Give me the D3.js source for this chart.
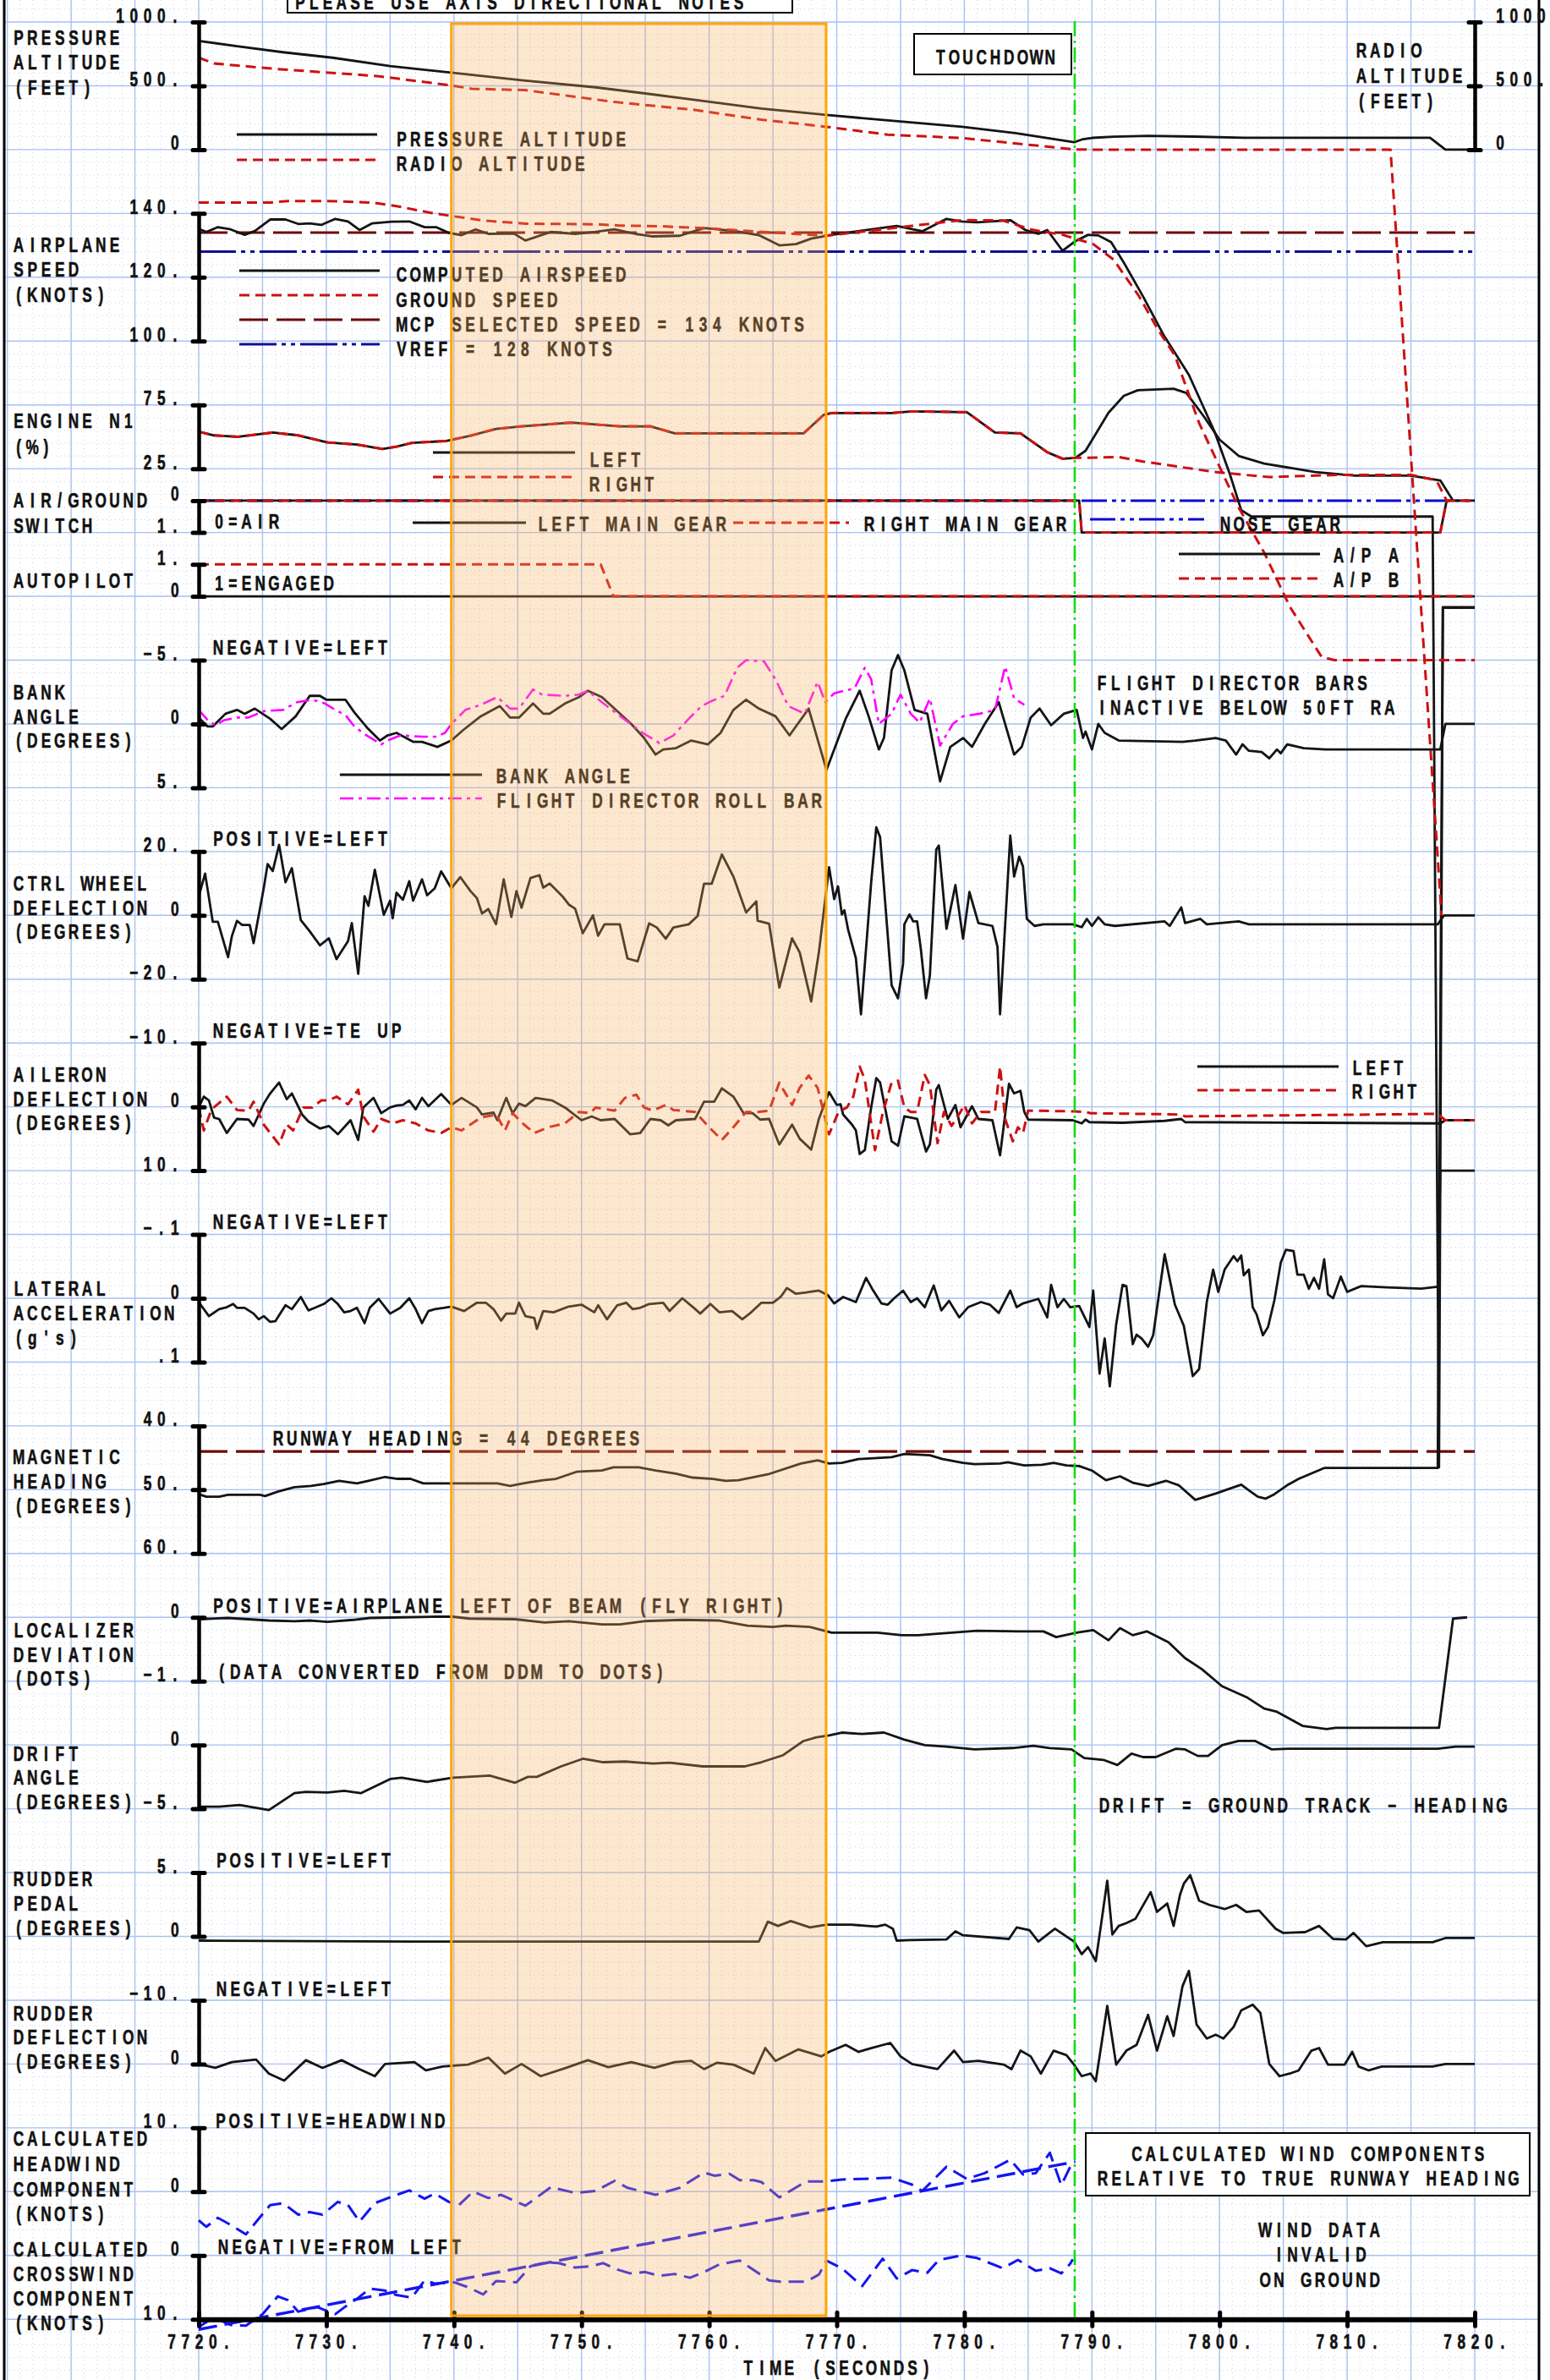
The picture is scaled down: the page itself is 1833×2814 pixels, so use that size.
<!DOCTYPE html>
<html>
<head>
<meta charset="utf-8">
<title>FDR approach and landing</title>
<script src="https://cdn.jsdelivr.net/npm/d3@7"></script>
<style>
  html, body { margin: 0; padding: 0; background: #fff; }
  svg { display: block; }
  text { font-family: "Liberation Sans", Arial, sans-serif; font-weight: bold; font-size: 24px; fill: #111; stroke: #111; stroke-width: 0.6px; white-space: pre; }
</style>
</head>
<body>
<svg id="chart" width="1833" height="2814"></svg>
<script>
// ---------- data (time in seconds, values in panel units) ----------
const pressureAlt = [[7720,852],[7723,810],[7726.6,763],[7730.5,720],[7735,654],[7739.8,603],[7745.3,543],[7751.1,488],[7755,440],[7758.9,389],[7764.1,322],[7769.2,272],[7775,220],[7779.8,179],[7784,130],[7788.6,58],[7789.3,82],[7790,92],[7791.7,101],[7794.4,108],[7798,102],[7801.9,93],[7816.5,93],[7817.7,0],[7820,0]];
const radioAlt = [[7720,720],[7721.2,675],[7726.2,631],[7734,576],[7739.8,503],[7741.4,477],[7745.6,466],[7752.6,373],[7758.9,311],[7764.1,234],[7769.2,179],[7774,117],[7779.8,91],[7788.6,2],[7790,0],[7813.4,0],[7817.4,-6000]];

const computedAirspeed = [[7720,135.2],[7720.6,134.2],[7721.5,135.7],[7722.5,135],[7723.6,133.3],[7724.4,134.5],[7725.6,138.1],[7726.8,138.1],[7727.8,136.7],[7728.7,136.9],[7729.6,136.4],[7730.7,138.3],[7731.7,137.5],[7732.6,134.8],[7733.6,136.9],[7735.1,137.4],[7736.5,137.5],[7737.7,135.7],[7738.6,135.7],[7739.6,133.9],[7740.6,133.2],[7741.7,135],[7742.7,133.6],[7744.7,133.7],[7745.6,131.5],[7747.6,134.2],[7749.5,133.6],[7751.1,134.2],[7752.6,135],[7754.2,133.6],[7755.6,132.8],[7757.7,133],[7759.6,135.4],[7762,134.5],[7763.9,133.2],[7765.5,130],[7766.8,130.4],[7768,132.1],[7769.6,133.3],[7774.7,136.1],[7776.7,134.4],[7778.6,138.3],[7779.8,137.5],[7781,137.2],[7783.6,137.9],[7784.8,134.8],[7785.8,133.6],[7786.5,134.8],[7787.7,128.3],[7788.7,131.3],[7789.7,133.3],[7790.5,133.1],[7791.5,131],[7792.5,124.6],[7794,114],[7795.6,102],[7797.6,89.4],[7799.6,71.7],[7800.8,58.4],[7801.7,47],[7802.5,45],[7816.7,45],[7817.2,-253],[7817.5,16.6],[7820,16.6]];
const groundSpeed = [[7720,143.4],[7725.6,143.4],[7727,143.9],[7730.1,143.9],[7733.6,143.4],[7735.5,142.3],[7738.3,140.1],[7739.8,139.2],[7742.5,137.7],[7745.6,136.8],[7751.1,136.6],[7753,136.2],[7756.1,136],[7759.6,135.4],[7765.4,133.9],[7769.2,133],[7775.9,136.1],[7779.8,137.9],[7783,137.8],[7785.3,134.9],[7787.7,133.3],[7790.1,130.4],[7791.7,125.5],[7793.7,114],[7795.2,103.4],[7796.5,95.5],[7798.4,74.3],[7801.5,47.8],[7803.5,33.7],[7805.5,16.8],[7808,1],[7809,0],[7820,0]];
const mcpSpeed = [[7720,134],[7820,134]];
const vref = [[7720,128],[7820,128]];

const n1Approach = [[7720,54],[7721.2,51.1],[7723.1,50],[7725.8,53.3],[7727.8,51.1],[7730.1,45.6],[7732.4,43.9],[7734.4,40.5],[7735.5,42.3],[7736.7,45.2],[7739.4,46.7],[7741.4,51.1],[7743.3,56.2],[7745.3,58.2],[7749.2,61.1],[7753,58.2],[7755.4,58.2],[7757.3,52.7],[7767.4,52.7],[7769,67.3],[7769.6,68.6],[7774.3,68.6],[7775.9,69.9],[7780.2,69.3],[7782.4,53.3],[7784.4,52.7],[7786.5,37.9],[7787.7,32.8],[7788.7,33.5]];
const n1Left = [...n1Approach, [7789.5,39],[7791.3,68.8],[7792.5,82.1],[7793.6,86.5],[7796.4,87.6],[7797.4,84.3],[7798.8,65.5],[7800,47.8],[7801.5,35],[7803.5,29],[7807.5,22.4],[7810.6,19.5],[7815,19.5],[7817.3,15.8],[7818.3,0]];
const n1Right = [...n1Approach, [7789.3,33.5],[7792.1,34.1],[7794,30.6],[7799.6,22.4],[7803.9,18.4],[7809.4,20.2],[7815,20.2],[7817,15.8],[7817.8,0]];

const leftMainGear = [[7720,0],[7789,0],[7789.2,1],[7817.3,1],[7817.8,0],[7820,0]];
const rightMainGear = [[7720,0],[7789,0],[7789.2,1],[7817.3,1],[7817.8,0],[7820,0]];
const noseGear = [[7720,0],[7820,0]];
const autopilotA = [[7720,0],[7820,0]];
const autopilotB = [[7720,1],[7751.5,1],[7752.5,0],[7820,0]];

const bankAngle = [[7720,-0.5],[7720.7,0.2],[7721.1,0.2],[7722.1,-0.8],[7723,-1.1],[7723.6,-0.8],[7724.4,-1.2],[7725.6,-0.4],[7726.5,0.4],[7727.6,-0.6],[7728.7,-2.2],[7729.5,-2.2],[7730,-1.9],[7731.5,-1.9],[7732.2,-0.9],[7733.2,0.3],[7734.2,1.3],[7734.8,0.9],[7735.5,0.7],[7736.8,1.4],[7737.5,1.4],[7738.7,1.8],[7739.8,1.3],[7740.7,0.5],[7742.1,-0.6],[7743.6,-1.4],[7744.4,-0.5],[7745.1,-0.5],[7746.2,-1.6],[7747,-0.8],[7747.5,-0.8],[7748.7,-1.6],[7749.8,-2.1],[7750.5,-2.6],[7751.6,-2.1],[7753.9,0],[7754.9,1.1],[7755.8,2.4],[7756.4,2],[7757.4,1.9],[7758.6,1.3],[7759.9,1.6],[7760.9,0.7],[7761.9,-1.1],[7762.9,-1.9],[7763.9,-1.2],[7765.2,-0.6],[7766.3,0.9],[7767.8,-1.2],[7769.2,3.6],[7770.7,-0.4],[7771.8,-2.6],[7772.5,-0.6],[7773.3,2],[7773.7,1.1],[7774.3,-4.2],[7774.8,-5.4],[7775.3,-4.2],[7776.1,-1.1],[7777.1,-0.8],[7778.1,4.5],[7778.9,1.8],[7779.9,1.1],[7780.6,1.8],[7781.6,0],[7782.7,-1.7],[7783.9,2.4],[7784.5,1.8],[7785.2,-0.5],[7785.9,-1.2],[7786.8,0.1],[7787.8,-0.8],[7788.8,-1.1],[7789.3,1.1],[7789.5,0.6],[7790,2],[7790.5,0],[7791,0.7],[7792.1,1.3],[7797.1,1.4],[7798.1,1.3],[7799.7,1.1],[7800.5,1.3],[7801.3,2.4],[7801.8,1.6],[7802.3,2.1],[7803.3,2.2],[7803.9,2.7],[7804.5,2],[7804.8,2.3],[7805.3,1.6],[7806.6,1.9],[7808.3,2],[7817.3,2],[7817.7,0],[7820,0]];
const fdRollBar = [[7720,-1.1],[7720.7,-0.3],[7721.3,0.1],[7722,-0.3],[7723,-0.5],[7723.9,-0.5],[7725.1,-1],[7726.6,-1.1],[7727.7,-1.7],[7728.9,-1.9],[7729.9,-1.6],[7730.7,-1.1],[7731.5,-0.7],[7732.2,0.2],[7733,0.8],[7734.3,1.6],[7734.8,1.3],[7735.8,0.9],[7737.5,1],[7738.6,1],[7739.3,0.7],[7739.8,0],[7740.9,-1.1],[7742.1,-1.5],[7743.4,-2.1],[7744.4,-1.2],[7745.1,-1.2],[7746.2,-2.7],[7746.9,-2.3],[7748.7,-2.2],[7749.8,-2.3],[7750.5,-2.6],[7751.6,-1.7],[7753.3,-0.4],[7754.8,0.7],[7756.1,1.5],[7757.2,0.9],[7758.4,-0.4],[7759.4,-1.4],[7760.2,-1.8],[7761.2,-2.2],[7762.2,-4.4],[7762.9,-5],[7764.3,-4.9],[7765.2,-3.5],[7766.2,-1.4],[7767.5,-0.8],[7768.5,-3.3],[7769.1,-1.7],[7769.8,-2.4],[7771.4,-2.8],[7772.2,-4.4],[7772.7,-3.5],[7773.3,0],[7774.3,-0.8],[7775,-2.3],[7775.8,-0.8],[7776.5,-0.1],[7777.3,-2],[7778.1,1.7],[7779.1,0],[7779.9,-0.6],[7781.2,-0.8],[7782.4,-1.1],[7783.2,-4.5],[7783.9,-2],[7784.7,-1.5]];

const ctrlWheel = [[7720,5.9],[7720.5,13.1],[7721.1,-2],[7721.5,-2],[7722.3,-13.1],[7722.6,-6.5],[7723,-1.7],[7723.4,-3],[7724,-3],[7724.3,-8.7],[7725.1,8.6],[7725.4,16.1],[7725.8,13.9],[7726.3,22.1],[7726.8,10.4],[7727.3,14.8],[7728,-1.5],[7728.7,-5],[7729.5,-9.4],[7730.2,-7.2],[7730.8,-13.7],[7731.7,-8.1],[7732,-2.4],[7732.5,-18.3],[7733,6],[7733.3,3],[7733.8,14.3],[7734.5,0.2],[7735,4.6],[7735.2,-0.9],[7735.5,7.1],[7736,4.9],[7736.5,10.7],[7736.8,4.6],[7737.5,11.3],[7737.9,6.3],[7738.5,8.5],[7739,13.8],[7739.8,8.5],[7740.5,12],[7741.3,7.6],[7741.8,5.4],[7742.2,0.6],[7742.7,2],[7743.3,-2.8],[7743.9,11.3],[7744.5,-0.5],[7744.9,7.6],[7745.3,2.4],[7746,11.7],[7746.7,12.6],[7747,8.7],[7747.5,10],[7748.5,6],[7749,3.4],[7749.5,2.1],[7750.1,-5.6],[7750.9,0],[7751.3,-6.4],[7751.8,-2.8],[7753,-2.8],[7753.6,-13.5],[7754.4,-14.4],[7755.3,-2.5],[7755.9,-3.8],[7756.6,-7.3],[7757.2,-3.8],[7758.4,-2.8],[7759.1,-0.2],[7759.6,9.9],[7760.2,9.9],[7761,19.1],[7761.9,12.2],[7762.9,0.9],[7763.7,4.4],[7763.8,-1.7],[7764.7,-2.6],[7765.5,-22.6],[7766.5,-7.2],[7767.1,-11.6],[7768,-27],[7768.6,-11.6],[7769.4,15.1],[7769.8,5.1],[7770.1,9.1],[7770.4,0.3],[7770.6,1.6],[7770.9,-4.6],[7771.5,-13.4],[7771.9,-31],[7772.7,10.4],[7773.1,27.6],[7773.4,24.5],[7774.3,-21.9],[7774.8,-26],[7775.2,-15.2],[7775.3,-2.8],[7775.7,0.3],[7776,-1.9],[7776.3,-1.9],[7776.6,-10.8],[7777,-26],[7777.3,-18.8],[7777.8,20.6],[7778,21.9],[7778.6,-4.2],[7779.3,9.5],[7779.9,-7.3],[7780.4,7.3],[7781.1,-2.4],[7782.2,-3.3],[7782.6,-9.9],[7782.8,-31],[7783.6,25],[7783.9,12.2],[7784.3,18.4],[7784.6,15.3],[7784.9,-1.1],[7785.5,-3.3],[7786.2,-2.8],[7788.5,-2.8],[7789.2,-3.7],[7789.6,-1.1],[7790,-3.3],[7790.5,-0.6],[7791,-2.8],[7791.8,-3.3],[7795.7,-1.9],[7796.1,-3.3],[7797,2.5],[7797.3,-2.4],[7798.5,-1.1],[7799,-2.8],[7801.5,-1.9],[7802.3,-2.8],[7817.1,-2.8],[7817.6,0],[7820,0]];

const aileronLeft = [[7720,0.1],[7720.4,-1.6],[7720.8,-1],[7721.2,1.7],[7721.6,1.9],[7722.2,4.1],[7723,1.9],[7723.9,2],[7724.3,3],[7725.1,-0.5],[7725.6,-2.1],[7726.3,-3.8],[7726.9,-1.2],[7727.3,-2.1],[7728.1,1.2],[7728.6,2.3],[7729.5,3.4],[7730.2,3],[7730.9,4.3],[7731.9,2.1],[7732.5,5.2],[7732.9,0.1],[7733.7,-1.4],[7734.3,1],[7735,0.1],[7735.5,-0.2],[7736,-0.3],[7736.5,-1],[7737,0.4],[7737.5,-1.4],[7738,-0.1],[7739,-2],[7739.8,-0.3],[7740.6,-1.4],[7741.8,0.1],[7742.2,1.2],[7743.1,0.9],[7743.4,2.1],[7744.1,-1.4],[7744.6,1],[7745.1,-0.5],[7745.6,-0.1],[7746.4,-1.4],[7747.7,-1],[7748.7,0.1],[7750,2.1],[7750.8,1.5],[7751.5,2.1],[7752.6,1.9],[7753.8,4.3],[7754.6,4.1],[7755.4,1.9],[7756.2,2.1],[7756.8,2.9],[7757.4,2.1],[7758.9,1.9],[7759.6,-0.8],[7760.4,-0.8],[7761,-2.9],[7761.9,-1.6],[7762.7,1],[7763.4,1],[7764,2],[7764.7,1.9],[7765.5,5.9],[7766.5,2.8],[7767.1,5],[7768,6.7],[7768.6,1.9],[7769.4,-2.3],[7770,-0.3],[7770.3,-0.4],[7770.5,1.2],[7771.2,2.8],[7771.5,3.7],[7771.8,7.4],[7772.2,6.8],[7772.7,0.1],[7773.1,-4.5],[7773.4,-3.8],[7774.3,5.4],[7774.8,6.1],[7775.3,1.5],[7775.8,1.7],[7776.3,1.9],[7776.6,4.1],[7777,7],[7777.3,5.9],[7777.8,-2.7],[7778,-3.4],[7778.7,1.9],[7779.3,-0.3],[7779.7,3.2],[7780.6,-0.1],[7781.1,1.9],[7782.2,2.1],[7782.8,7.6],[7783.5,-3.6],[7783.9,-2.1],[7784.4,-2.5],[7784.7,0.8],[7785,2],[7788.5,2.1],[7789.2,2.6],[7789.5,2],[7789.8,2.4],[7792.4,2.5],[7795.7,2.2],[7797,1.9],[7797.3,2.4],[7807.6,2.5],[7817.3,2.6],[7817.7,2.1],[7820,2.1]];
const aileronRight = [[7720,0.1],[7720.4,3.7],[7721,0.4],[7722.2,-1.6],[7723,0.5],[7723.9,0.6],[7724.3,-0.8],[7725.1,2.8],[7726.3,5.9],[7726.9,2.8],[7727.4,3.7],[7728.2,0.1],[7728.9,0.1],[7729.6,-1],[7730.2,-1],[7730.8,-1.6],[7731.7,-0.4],[7732.5,-2.7],[7732.9,1.5],[7733.7,3.9],[7734.3,1.9],[7735.2,2.6],[7736,2.1],[7737,2.6],[7738,3.7],[7739,4.1],[7739.8,3.2],[7740.6,3.7],[7742.1,1.7],[7743.3,1.2],[7744,3.7],[7744.6,1],[7745.5,2.8],[7746.3,4.1],[7747.4,3.2],[7748.7,2.6],[7749.8,0.8],[7750.7,1],[7751.1,0.1],[7752.6,0.6],[7753.4,-1.4],[7754.3,-1.9],[7754.9,0.1],[7755.6,0.6],[7756.6,-0.3],[7757.2,0.5],[7758.9,0.8],[7760,3.2],[7761,5.2],[7761.9,3.2],[7762.9,0.8],[7763.8,0.8],[7764.7,0.6],[7765.5,-3.8],[7766.5,-0.3],[7767.1,-3],[7767.8,-4.9],[7768.5,-3],[7769.4,4.3],[7770.1,1],[7770.3,0.6],[7770.8,0.1],[7771.3,-1.6],[7771.8,-6.3],[7772.2,-4.3],[7773,6.8],[7773.6,1],[7774.3,-3.8],[7774.8,-4.1],[7775.3,0.1],[7775.8,0.8],[7776.3,0.8],[7776.9,-5],[7777.3,-3.4],[7777.9,5.7],[7778.4,0.8],[7779,3],[7779.7,0.8],[7780,-0.3],[7780.6,2.6],[7781.3,0.8],[7782.4,0.8],[7782.8,-6.3],[7783.2,1.9],[7783.8,5.4],[7784.2,3.2],[7784.6,4.1],[7785,0.6],[7788.5,0.7],[7789.5,0.8],[7789.9,1],[7797,1.2],[7797.3,1.5],[7817.1,1.1],[7817.7,2.1],[7820,2.1]];

const lateralAccel = [[7720,0.006],[7720.8,0.028],[7721.6,0.017],[7722.2,0.014],[7722.7,0.009],[7723,0.015],[7723.6,0.015],[7724.3,0.024],[7724.7,0.033],[7725.1,0.028],[7725.6,0.037],[7726,0.036],[7726.8,0.011],[7727.3,0.017],[7728,-0.002],[7728.6,0.019],[7729.1,0.015],[7729.8,0.009],[7730.4,0],[7730.9,0.009],[7731.4,0.022],[7731.9,0.02],[7732.4,0.015],[7733,0.039],[7733.4,0.015],[7734.1,0.001],[7735,0.024],[7735.8,0.015],[7736.5,0],[7737,0.017],[7737.5,0.039],[7738,0.02],[7738.5,0.017],[7739.2,0.015],[7739.8,0.013],[7740.8,0.02],[7741.8,0.007],[7742.5,0.007],[7743.1,0.017],[7743.7,0.035],[7744.1,0.024],[7744.8,0.024],[7745.1,0.007],[7745.6,0.028],[7746.3,0.031],[7746.5,0.048],[7747,0.02],[7747.8,0.022],[7749,0.013],[7750,0.01],[7751,0.022],[7751.3,0.011],[7752,0.033],[7752.8,0.011],[7753.5,0.007],[7754,0.017],[7754.6,0.015],[7755.3,0.009],[7756.4,0.007],[7756.9,0.02],[7757.9,0],[7758.8,0.015],[7759.3,0.024],[7760.1,0.009],[7760.8,0.022],[7761.8,0.02],[7762.6,0.033],[7763.3,0.022],[7764.1,0.007],[7765,0.007],[7765.6,-0.002],[7766.1,-0.016],[7766.8,-0.007],[7767.6,-0.009],[7768.6,-0.012],[7769.3,-0.005],[7769.8,0.008],[7770.5,-0.002],[7771,0.002],[7771.5,0.006],[7772.3,-0.032],[7772.8,-0.014],[7773.5,0.008],[7774,0.01],[7774.5,0],[7775.2,-0.012],[7775.8,0.006],[7776.3,0],[7776.9,0.014],[7777.6,-0.02],[7778.2,0.019],[7778.8,0.004],[7779.6,0.03],[7780.3,0.014],[7781.3,0.006],[7782,0.01],[7782.7,0.023],[7783.6,-0.012],[7784.1,0.014],[7784.6,0.008],[7785.8,0.001],[7786.5,0.03],[7786.8,-0.021],[7787.3,0.014],[7787.8,0.001],[7788.3,0.014],[7789,0.012],[7789.8,0.045],[7790.1,-0.012],[7790.6,0.118],[7791,0.063],[7791.4,0.138],[7791.9,0.041],[7792.4,-0.021],[7792.7,-0.019],[7793.2,0.072],[7793.5,0.057],[7793.9,0.063],[7794.4,0.076],[7794.8,0.058],[7795.7,-0.069],[7796.5,0.01],[7797.2,0.043],[7797.9,0.122],[7798.4,0.111],[7799,0.006],[7799.5,-0.045],[7799.9,-0.01],[7800.4,-0.045],[7801.1,-0.066],[7801.4,-0.058],[7801.7,-0.067],[7801.9,-0.036],[7802.3,-0.045],[7802.6,0.014],[7802.9,0.025],[7803.4,0.058],[7803.8,0.045],[7804.3,0.003],[7804.8,-0.056],[7805.2,-0.076],[7805.8,-0.074],[7806.1,-0.037],[7806.6,-0.037],[7807,-0.015],[7807.4,-0.032],[7807.8,-0.015],[7808.2,-0.061],[7808.5,-0.006],[7808.9,0],[7809.5,-0.034],[7810,-0.01],[7811.1,-0.019],[7813.1,-0.017],[7815.8,-0.015],[7817.1,-0.018],[7817.3,-0.2],[7820,-0.2]];

const magHeading = [[7720,50.7],[7720.6,51.1],[7721.6,51.1],[7722.3,50.8],[7724.8,50.8],[7725.2,51],[7726.2,50.3],[7727.5,49.6],[7728.8,49.4],[7729.8,49.1],[7731,48.6],[7732.4,49],[7733.3,48.6],[7734.6,48],[7735.6,48.3],[7736.6,48.3],[7737.6,49],[7743.4,49],[7744.4,49.4],[7745.7,48.9],[7747,48.5],[7748,48.3],[7749.6,47.2],[7751.6,47],[7752.5,46.5],[7754.5,46.5],[7755.8,47],[7757.4,47.5],[7758.7,48.1],[7760.3,48.3],[7761.3,48.6],[7762.3,48.5],[7764.6,47.6],[7767.2,45.9],[7768.5,45.4],[7769.4,45.9],[7770.4,45.8],[7771.7,45.2],[7774.3,44.9],[7775.3,44.4],[7777.3,44.6],[7778.3,45.2],[7779.9,45.8],[7780.8,46],[7782.8,45.9],[7783.4,45.7],[7784.7,46.2],[7786.1,46.1],[7787,45.8],[7788,46.2],[7789,46.3],[7790,47],[7791.1,48.5],[7792.2,47.9],[7793.2,48.9],[7794.4,49.4],[7795.8,48.6],[7796.8,49.3],[7798.1,51.6],[7799.7,50.6],[7801.7,49.2],[7802.3,50.1],[7803,51.1],[7803.6,51.4],[7804.3,50.7],[7805.3,49.3],[7806.2,48.3],[7808.2,46.6],[7817.1,46.6],[7817.5,-88.2],[7820,-88.2]];
const runwayHeading = [[7720,44],[7820,44]];

const localizer = [[7720,-0.03],[7722.3,-0.01],[7725.5,-0.05],[7727.5,-0.06],[7728.8,-0.05],[7730.1,-0.07],[7732.1,-0.04],[7733.4,-0.01],[7736,0],[7738.6,0.01],[7739.9,0.01],[7741.2,-0.02],[7744.8,-0.03],[7747.1,-0.08],[7749,-0.06],[7751.6,-0.11],[7753,-0.11],[7754.9,-0.06],[7757.9,-0.04],[7760.8,-0.05],[7763,-0.13],[7765,-0.15],[7766,-0.13],[7767.9,-0.15],[7769.6,-0.24],[7773.2,-0.24],[7775.1,-0.28],[7776.4,-0.28],[7777.7,-0.26],[7781,-0.21],[7784.3,-0.22],[7786.2,-0.22],[7787.2,-0.31],[7788.8,-0.24],[7790.1,-0.2],[7791.3,-0.36],[7792.2,-0.17],[7793.2,-0.28],[7794.3,-0.22],[7796,-0.39],[7797.3,-0.64],[7798.6,-0.81],[7800.2,-1.08],[7802.2,-1.26],[7803.5,-1.43],[7804.5,-1.48],[7806.5,-1.7],[7808.4,-1.75],[7809.1,-1.73],[7817.2,-1.73],[7818.3,-0.02],[7819.4,0]];

const driftAngle = [[7720,-4.84],[7721.6,-4.84],[7723.2,-4.71],[7725.5,-5.1],[7727.5,-3.78],[7728.4,-3.67],[7730.1,-3.73],[7731.4,-3.6],[7732.7,-3.78],[7735,-2.67],[7735.9,-2.56],[7737.9,-2.89],[7739.9,-2.56],[7742.8,-2.4],[7744.8,-2.96],[7745.8,-2.5],[7746.5,-2.5],[7748.4,-1.68],[7750.1,-1.08],[7751.7,-1.35],[7753.4,-1.3],[7755.6,-1.46],[7756.9,-1.39],[7759.5,-1.68],[7762.8,-1.68],[7764.1,-1.35],[7765.8,-0.8],[7767.4,0.31],[7768.4,0.6],[7769.4,0.75],[7770.4,0.97],[7772,0.86],[7773.7,0.97],[7775.3,0.42],[7776.9,-0.02],[7778.6,-0.13],[7780.8,-0.35],[7783.8,-0.24],[7785.4,-0.06],[7786.7,-0.24],[7788.4,-0.35],[7789.4,-1.02],[7790.9,-1.17],[7792,-1.57],[7793.1,-0.68],[7794,-0.95],[7795,-0.95],[7796.6,-0.29],[7797.3,-0.35],[7798.3,-0.86],[7799.1,-0.86],[7800.2,-0.02],[7801.5,0.31],[7802.8,0.31],[7804.1,-0.35],[7805.4,-0.29],[7817.1,-0.29],[7818.5,-0.13],[7820,-0.13]];

const rudderPedal = [[7720,-0.33],[7736.6,-0.4],[7763.9,-0.4],[7764.6,1.15],[7765.4,0.82],[7766.4,1.2],[7767.9,0.7],[7769.2,0.92],[7771.1,0.92],[7773.1,0.77],[7773.8,0.92],[7774.4,0.6],[7774.7,-0.33],[7775.7,-0.29],[7778.6,-0.24],[7779.3,0.4],[7779.9,0.09],[7783.5,-0.2],[7784.1,0.7],[7785.1,0.49],[7785.8,-0.4],[7787.1,0.6],[7788.1,-0.07],[7788.6,-0.4],[7789.2,-1.39],[7789.7,-0.84],[7790.3,-1.94],[7790.7,0.82],[7791.2,4.36],[7791.6,0.15],[7792.1,0.82],[7792.7,1.04],[7793.4,1.37],[7794.6,3.47],[7795.1,1.92],[7795.9,2.58],[7796.4,0.82],[7796.9,3.25],[7797.2,4.13],[7797.7,4.8],[7798.4,2.8],[7799.2,2.47],[7800.4,2.14],[7801.3,2.47],[7802.1,1.92],[7803.1,2.03],[7804.4,0.6],[7805,0.27],[7806.7,0.33],[7807.8,0.82],[7808.9,-0.2],[7809.9,-0.24],[7810.5,0.27],[7811.5,-0.77],[7812.8,-0.46],[7816.7,-0.46],[7817.7,-0.13],[7820,-0.13]];
const rudderDefl = [[7720,0],[7721.3,0.6],[7722.6,-0.3],[7724.5,-0.7],[7725.5,1.5],[7726.7,2.6],[7728.4,-0.6],[7729.7,0.6],[7731.2,-0.6],[7732.6,0.8],[7733.8,1.9],[7734.6,0],[7736.9,-0.3],[7737.8,1],[7739.1,0.4],[7741.1,0.1],[7742.7,-1],[7744,1.5],[7745.3,0],[7746.8,1.9],[7748.8,0.6],[7750.5,-0.6],[7752.1,0.5],[7753.9,-0.3],[7755.7,0.6],[7757.3,-0.3],[7758.6,-0.5],[7759.6,0.8],[7760.6,-0.2],[7761.9,0.1],[7763.5,1.5],[7764.4,-2.5],[7765.2,-0.5],[7767,-2.3],[7768.8,-1.2],[7769.4,-1.9],[7770.7,-3],[7771.7,-1.9],[7772.7,-2.5],[7774.2,-3.3],[7775,-1.2],[7775.9,0],[7777.9,0.8],[7779.2,-2.1],[7779.9,-0.3],[7781.1,-0.5],[7783.1,0.1],[7783.7,0.8],[7784.4,-2.1],[7785.2,-1.2],[7786,1.5],[7787,-2.1],[7788,-1.4],[7788.6,0.1],[7789.2,1.9],[7789.9,1.5],[7790.3,2.7],[7790.7,-2.5],[7791.2,-9.1],[7791.9,0.1],[7792.7,-2.1],[7793.5,-3],[7794.4,-7.7],[7795.1,-2.1],[7795.9,-7.5],[7796.4,-4.4],[7797.1,-12.2],[7797.6,-14.6],[7798.2,-6.2],[7799,-4],[7799.7,-4.6],[7800.3,-4],[7801.1,-5.8],[7801.7,-8.4],[7802.6,-9.3],[7803.2,-8],[7803.9,0],[7804.7,1.9],[7805.5,1.5],[7806.2,1],[7807.2,-2.1],[7807.8,-2.5],[7808.5,0.1],[7809.8,0.1],[7810.4,-1.9],[7810.9,0.4],[7811.7,1],[7812.7,0.4],[7816.7,0.4],[7817.7,0],[7820,0]];

const headwind = [[7720,-4.5],[7720.6,-5.5],[7721.5,-4.1],[7722.5,-5.2],[7723.7,-6.7],[7724.6,-4.5],[7725.6,-2.1],[7726.6,-1.8],[7727.8,-3.6],[7728.7,-3.2],[7729.7,-3.6],[7730.9,-1.6],[7731.7,-2.1],[7732.6,-4.7],[7733.8,-1.8],[7735.1,-0.8],[7736.5,0.2],[7737.7,-1.1],[7738.5,-0.3],[7739.6,-1.6],[7740.4,-2.1],[7741.5,0],[7742.7,-1],[7743.7,-0.5],[7745.6,-2.2],[7747.6,0.7],[7749.5,-0.2],[7751.1,0.1],[7752.6,1.7],[7753.6,0.6],[7755.8,-0.5],[7757.7,0.6],[7759.6,3],[7760.4,2.5],[7761.6,2.8],[7762.4,1.8],[7763.5,1.8],[7764.1,1.5],[7765.5,-0.9],[7767.6,1.6],[7769.2,1.6],[7770.4,1.9],[7772,2],[7774.3,2.2],[7775.9,1.1],[7776.7,0.1],[7778.6,3.9],[7780.2,2],[7781.6,2.9],[7783.6,5],[7784.6,2.7],[7785.6,2.9],[7786.7,6.1],[7787.6,1],[7788.3,3.9]];
const crosswind = [[7720,11.2],[7721.2,9.7],[7722.5,10.9],[7723.7,11],[7725,9.2],[7726.2,6.4],[7727,7],[7727.8,8.8],[7729.3,8.1],[7730.7,9.2],[7731.7,7.7],[7732.4,6.8],[7733.4,5.2],[7734.6,5.5],[7735.5,6.2],[7736.7,6.6],[7737.7,3.9],[7738.5,4.4],[7740,4.2],[7741,4.9],[7742.3,6.1],[7743.3,4],[7744.9,4.2],[7746,1.7],[7747.2,1.1],[7748.2,1.2],[7749.5,1.9],[7750.7,1.7],[7751.7,1.2],[7752.8,2.2],[7753.8,2.8],[7755,2.6],[7756.1,3.2],[7757.3,2.9],[7758.5,3.5],[7759.6,2.6],[7760.8,1.4],[7762.4,0.8],[7763.5,2.3],[7764.7,3.9],[7765.6,4.1],[7767.6,4.1],[7768.6,3],[7769.2,0.8],[7770.4,2],[7772,4.8],[7773.6,0.5],[7774.7,3.6],[7775.9,2.3],[7777.1,2.7],[7778,0.7],[7779.8,0],[7781,0.4],[7783,2],[7784.2,0.7],[7785.6,2.4],[7786.7,2],[7787.6,2.8],[7788.3,1.3],[7788.5,0.6]];
const crosswindTrend = [[7720,11.6],[7788.7,-14.7]];

// axis ticks and their printed labels
const timeTicks = d3.range(7720, 7821, 10);
const altTicks = [1000, 500, 0], altLabels = ['1000.', '500.', '0'];
const spdTicks = [140, 120, 100], spdLabels = ['140.', '120.', '100.'];
const n1Ticks = [75, 25], n1Labels = ['75.', '25.'];
const agTicks = [0, 1], agLabels = ['0', '1.'];
const apTicks = [1, 0], apLabels = ['1.', '0'];
const bankTicks = [-5, 0, 5], bankLabels = ['\u22125.', '0', '5.'];
const wheelTicks = [20, 0, -20], wheelLabels = ['20.', '0', '\u221220.'];
const ailTicks = [-10, 0, 10], ailLabels = ['\u221210.', '0', '10.'];
const latTicks = [-0.1, 0, 0.1], latLabels = ['\u2212.1', '0', '.1'];
const hdgTicks = [40, 50, 60], hdgLabels = ['40.', '50.', '60.'];
const locTicks = [0, -1], locLabels = ['0', '\u22121.'];
const driftTicks = [0, -5], driftLabels = ['0', '\u22125.'];
const pedalTicks = [5, 0], pedalLabels = ['5.', '0'];
const rudTicks = [-10, 0], rudLabels = ['\u221210.', '0'];
const headTicks = [10, 0], headLabels = ['10.', '0'];
const crossTicks = [0, 10], crossLabels = ['0', '10.'];

const touchdownTime = 7788.65;
const shadeStart = 7739.8, shadeEnd = 7769.17;

// ---------- layout ----------
const G = 75.45;                       // one grid cell
const row = r => 26 + r * G;
const x = d3.scaleLinear().domain([7720, 7820]).range([235, 1744]);

const yAlt = d3.scaleLinear().domain([1000, 0]).range([row(0), row(2)]);
const ySpd = d3.scaleLinear().domain([140, 100]).range([row(3), row(5)]);
const yN1 = d3.scaleLinear().domain([75, 25]).range([row(6), row(7)]);
const yAG = d3.scaleLinear().domain([0, 1]).range([row(7.5), row(8)]);
const yAP = d3.scaleLinear().domain([1, 0]).range([row(8.5), row(9)]);
const yBank = d3.scaleLinear().domain([-5, 5]).range([row(10), row(12)]);
const yWheel = d3.scaleLinear().domain([20, -20]).range([row(13), row(15)]);
const yAil = d3.scaleLinear().domain([-10, 10]).range([row(16), row(18)]);
const yLat = d3.scaleLinear().domain([-0.1, 0.1]).range([row(19), row(21)]);
const yHdg = d3.scaleLinear().domain([40, 60]).range([row(22), row(24)]);
const yLoc = d3.scaleLinear().domain([0, -1]).range([row(25), row(26)]);
const yDrift = d3.scaleLinear().domain([0, -5]).range([row(27), row(28)]);
const yPedal = d3.scaleLinear().domain([5, 0]).range([row(29), row(30)]);
const yRud = d3.scaleLinear().domain([-10, 0]).range([row(31), row(32)]);
const yHead = d3.scaleLinear().domain([10, 0]).range([row(33), row(34)]);
const yCross = d3.scaleLinear().domain([0, 10]).range([row(35), row(36)]);

const svg = d3.select('#chart');
const gridG = svg.append('g');
const dataG = svg.append('g');
const axisG = svg.append('g');
const textG = svg.append('g');
const shadeG = svg.append('g');
const topG = svg.append('g');

// line styles
const BLACK = '#141414';
const solid = { color: BLACK, w: 2.8 };
const redDash = { color: '#cc1111', w: 3, dash: '12,7' };
const mcpStyle = { color: '#6e0808', w: 3.2, dash: '34,10' };
const vrefStyle = { color: '#101090', w: 3, dash: '44,6,5,6,5,6' };
const fdStyle = { color: '#ff00ff', w: 2.6, dash: '16,6,4,6' };
const noseStyle = { color: '#0a0ad0', w: 3, dash: '30,6,5,6,5,6' };
const windStyle = { color: '#1414f0', w: 3, dash: '18,9' };
const trendStyle = { color: '#1414f0', w: 3.4, dash: '22,9' };

// ---------- grid ----------
const xGrid = d3.range(-3, 22).map(k => 235 + k * G).filter(v => v > 6 && v < 1820);
const yGrid = d3.range(0, 38).map(k => 26 + k * G).filter(v => v < 2814);
const xMinor = d3.range(-15, 108).map(k => 235 + k * G / 5).filter(v => v > 6 && v < 1820);
const yMinor = d3.range(-1, 190).map(k => 26 + k * G / 5).filter(v => v > 0 && v < 2814);
gridG.selectAll('.vm').data(xMinor).join('line')
  .attr('x1', d => d).attr('x2', d => d).attr('y1', 0).attr('y2', 2814)
  .attr('stroke', '#c9d2e4').attr('stroke-width', 1).attr('stroke-dasharray', '1,4');
gridG.selectAll('.hm').data(yMinor).join('line')
  .attr('x1', 6).attr('x2', 1820).attr('y1', d => d).attr('y2', d => d)
  .attr('stroke', '#c9d2e4').attr('stroke-width', 1).attr('stroke-dasharray', '1,4');
gridG.selectAll('.vg').data(xGrid).join('line')
  .attr('x1', d => d).attr('x2', d => d).attr('y1', 0).attr('y2', 2814)
  .attr('stroke', '#a9c2f2').attr('stroke-width', 1.4);
gridG.selectAll('.hg').data(yGrid).join('line')
  .attr('x1', 6).attr('x2', 1820).attr('y1', d => d).attr('y2', d => d)
  .attr('stroke', '#a9c2f2').attr('stroke-width', 1.4);
// page frame
gridG.append('line').attr('x1', 5).attr('x2', 5).attr('y1', 0).attr('y2', 2814).attr('stroke', '#000').attr('stroke-width', 3);
gridG.append('line').attr('x1', 1820).attr('x2', 1820).attr('y1', 0).attr('y2', 2814).attr('stroke', '#000').attr('stroke-width', 3);

// ---------- text helper: fixed pitch, condensed ----------
const ADV = 16.2, SX = 0.72;
function mono(t, str, x0, y0, anchor) {
  const n = str.length, w = n * ADV;
  const left = anchor === 'end' ? x0 - w : anchor === 'middle' ? x0 - w / 2 : x0;
  t.attr('transform', `translate(${left},${y0}) scale(${SX},1)`)
    .attr('x', d3.range(n).map(i => ((i + 0.5) * ADV / SX).toFixed(2)).join(' '))
    .attr('y', 0).attr('dy', null).attr('text-anchor', 'middle').text(str);
  return t;
}
function label(str, x0, y0, anchor = 'start') {
  return mono(textG.append('text'), str, x0, y0, anchor);
}

// ---------- series ----------
function plot(data, y, st, g = dataG) {
  g.append('path').datum(data)
    .attr('d', d3.line().x(d => x(d[0])).y(d => y(d[1])))
    .attr('fill', 'none').attr('stroke', st.color).attr('stroke-width', st.w)
    .attr('stroke-dasharray', st.dash || null).attr('stroke-linejoin', 'round');
}
function legendLine(x1, x2, y, st) {
  dataG.append('line').attr('x1', x1).attr('x2', x2).attr('y1', y).attr('y2', y)
    .attr('stroke', st.color).attr('stroke-width', st.w).attr('stroke-dasharray', st.dash || null);
}

plot(mcpSpeed, ySpd, mcpStyle);
plot(vref, ySpd, vrefStyle);
plot(runwayHeading, yHdg, mcpStyle);
plot(noseGear, yAG, noseStyle);

plot(pressureAlt, yAlt, solid);
plot(computedAirspeed, ySpd, solid);
plot(n1Left, yN1, solid);
plot(leftMainGear, yAG, solid);
plot(autopilotA, yAP, solid);
plot(bankAngle, yBank, solid);
plot(ctrlWheel, yWheel, solid);
plot(aileronLeft, yAil, solid);
plot(lateralAccel, yLat, solid);
plot(magHeading, yHdg, solid);
plot(localizer, yLoc, solid);
plot(driftAngle, yDrift, solid);
plot(rudderPedal, yPedal, solid);
plot(rudderDefl, yRud, solid);

plot(fdRollBar, yBank, fdStyle);
plot(radioAlt, yAlt, redDash);
plot(groundSpeed, ySpd, redDash);
plot(n1Right, yN1, redDash);
plot(rightMainGear, yAG, redDash);
plot(autopilotB, yAP, redDash);
plot(aileronRight, yAil, redDash);

plot(headwind, yHead, windStyle);
plot(crosswind, yCross, windStyle);
plot(crosswindTrend, yCross, trendStyle);

// ---------- axes ----------
function styleAxis(g, anchor, dx) {
  g.attr('font-size', null).attr('font-family', null);
  g.select('.domain').attr('stroke', '#000').attr('stroke-width', 4.5);
  g.selectAll('.tick line').attr('stroke', '#000').attr('stroke-width', 5).attr('stroke-linecap', 'round');
  g.selectAll('.tick text').each(function () {
    const t = d3.select(this);
    mono(t, t.text(), dx, 0, anchor);
  });
}
function leftAxis(y, ticks, labels) {
  const g = axisG.append('g').attr('transform', `translate(${x(7720)},0)`)
    .call(d3.axisLeft(y).tickValues(ticks).tickFormat((d, i) => labels[i]).tickSize(7).tickSizeOuter(0));
  g.selectAll('.tick line').attr('x1', -7).attr('x2', 7);
  styleAxis(g, 'end', -20);
}
leftAxis(yAlt, altTicks, altLabels);
leftAxis(ySpd, spdTicks, spdLabels);
leftAxis(yN1, n1Ticks, n1Labels);
leftAxis(yAG, agTicks, agLabels);
leftAxis(yAP, apTicks, apLabels);
leftAxis(yBank, bankTicks, bankLabels);
leftAxis(yWheel, wheelTicks, wheelLabels);
leftAxis(yAil, ailTicks, ailLabels);
leftAxis(yLat, latTicks, latLabels);
leftAxis(yHdg, hdgTicks, hdgLabels);
leftAxis(yLoc, locTicks, locLabels);
leftAxis(yDrift, driftTicks, driftLabels);
leftAxis(yPedal, pedalTicks, pedalLabels);
leftAxis(yRud, rudTicks, rudLabels);
leftAxis(yHead, headTicks, headLabels);
leftAxis(yCross, crossTicks, crossLabels);

{ // radio altitude scale on the right
  const g = axisG.append('g').attr('transform', `translate(${x(7820)},0)`)
    .call(d3.axisRight(yAlt).tickValues(altTicks).tickFormat((d, i) => altLabels[i]).tickSize(7).tickSizeOuter(0));
  g.selectAll('.tick line').attr('x1', -7).attr('x2', 7);
  styleAxis(g, 'start', 22);
}
{ // time axis
  const g = axisG.append('g').attr('transform', `translate(0,${row(36)})`)
    .call(d3.axisBottom(x).tickValues(timeTicks).tickFormat(d => d + '.').tickSize(8).tickSizeOuter(0));
  g.selectAll('.tick line').attr('y1', -8).attr('y2', 8);
  styleAxis(g, 'middle', 0);
  g.selectAll('.tick text').each(function () {
    const t = d3.select(this);
    t.attr('transform', t.attr('transform').replace(',0)', ',35)'));
  });
  g.select('.domain').attr('stroke-width', 6);
}

// ---------- panel titles ----------
const L = 14;
[['PRESSURE', 53], ['ALTITUDE', 82], ['(FEET)', 112],
 ['AIRPLANE', 298], ['SPEED', 327], ['(KNOTS)', 357],
 ['ENGINE N1', 506], ['(%)', 537],
 ['AIR/GROUND', 600], ['SWITCH', 630],
 ['AUTOPILOT', 695],
 ['BANK', 827], ['ANGLE', 856], ['(DEGREES)', 884],
 ['CTRL WHEEL', 1053], ['DEFLECTION', 1082], ['(DEGREES)', 1110],
 ['AILERON', 1279], ['DEFLECTION', 1308], ['(DEGREES)', 1336],
 ['LATERAL', 1532], ['ACCELERATION', 1561], ["(g's)", 1590],
 ['MAGNETIC', 1731], ['HEADING', 1760], ['(DEGREES)', 1789],
 ['LOCALIZER', 1936], ['DEVIATION', 1965], ['(DOTS)', 1993],
 ['DRIFT', 2082], ['ANGLE', 2110], ['(DEGREES)', 2139],
 ['RUDDER', 2230], ['PEDAL', 2259], ['(DEGREES)', 2288],
 ['RUDDER', 2389], ['DEFLECTION', 2417], ['(DEGREES)', 2446],
 ['CALCULATED', 2537], ['HEADWIND', 2567], ['COMPONENT', 2597], ['(KNOTS)', 2626],
 ['CALCULATED', 2668], ['CROSSWIND', 2697], ['COMPONENT', 2726], ['(KNOTS)', 2755]
].forEach(([s, yy]) => label(s, L, yy));

label('RADIO', 1602, 68);
label('ALTITUDE', 1602, 98);
label('(FEET)', 1602, 128);

// direction notes
label('0=AIR', 251, 625);
label('1=ENGAGED', 251, 698);
label('NEGATIVE=LEFT', 250, 774);
label('POSITIVE=LEFT', 250, 1000);
label('NEGATIVE=TE UP', 250, 1227);
label('NEGATIVE=LEFT', 250, 1453);
label('RUNWAY HEADING = 44 DEGREES', 321, 1709);
label('POSITIVE=AIRPLANE LEFT OF BEAM (FLY RIGHT)', 250, 1907);
label('(DATA CONVERTED FROM DDM TO DOTS)', 254, 1985);
label('DRIFT = GROUND TRACK \u2212 HEADING', 1298, 2143);
label('POSITIVE=LEFT', 254, 2208);
label('NEGATIVE=LEFT', 254, 2360);
label('POSITIVE=HEADWIND', 253, 2516);
label('NEGATIVE=FROM LEFT', 256, 2665);
label('FLIGHT DIRECTOR BARS', 1295, 816);
label('INACTIVE BELOW 50FT RA', 1295, 845);
label('WIND DATA', 1561, 2645, 'middle');
label('INVALID', 1561, 2674, 'middle');
label('ON GROUND', 1561, 2704, 'middle');
label('TIME (SECONDS)', 990, 2808, 'middle');

// legends
legendLine(280, 446, 159, solid); label('PRESSURE ALTITUDE', 467, 173);
legendLine(280, 446, 189, redDash); label('RADIO ALTITUDE', 467, 202);
legendLine(283, 449, 320, solid); label('COMPUTED AIRSPEED', 467, 333);
legendLine(283, 449, 349, redDash); label('GROUND SPEED', 467, 363);
legendLine(283, 449, 378, mcpStyle); label('MCP SELECTED SPEED = 134 KNOTS', 467, 392);
legendLine(283, 449, 407, vrefStyle); label('VREF = 128 KNOTS', 467, 421);
legendLine(512, 680, 535, solid); label('LEFT', 695, 552);
legendLine(512, 680, 564, redDash); label('RIGHT', 695, 581);
legendLine(488, 622, 618, solid); label('LEFT MAIN GEAR', 634, 628);
legendLine(867, 1004, 618, redDash); label('RIGHT MAIN GEAR', 1020, 628);
legendLine(1289, 1424, 614, noseStyle); label('NOSE GEAR', 1441, 628);
legendLine(1394, 1561, 655, solid); label('A/P A', 1575, 665);
legendLine(1394, 1561, 684, redDash); label('A/P B', 1575, 694);
legendLine(402, 570, 916, solid); label('BANK ANGLE', 585, 926);
legendLine(402, 570, 944, fdStyle); label('FLIGHT DIRECTOR ROLL BAR', 585, 955);
legendLine(1416, 1583, 1261, solid); label('LEFT', 1597, 1271);
legendLine(1416, 1583, 1289, redDash); label('RIGHT', 1597, 1299);

// boxes
function box(x1, y1, x2, y2) {
  textG.append('rect').attr('x', x1).attr('y', y1).attr('width', x2 - x1).attr('height', y2 - y1)
    .attr('fill', '#fff').attr('stroke', '#000').attr('stroke-width', 2);
}
box(340, -10, 937, 15);
label('PLEASE USE AXIS DIRECTIONAL NOTES', 347, 11);
box(1081, 40, 1267, 88);
label('TOUCHDOWN', 1177, 76, 'middle');
box(1284, 2522, 1809, 2596);
label('CALCULATED WIND COMPONENTS', 1547, 2555, 'middle');
label('RELATIVE TO TRUE RUNWAY HEADING', 1547, 2584, 'middle');

// ---------- highlighted interval and touchdown marker ----------
shadeG.append('rect')
  .attr('x', x(shadeStart)).attr('y', 28)
  .attr('width', x(shadeEnd) - x(shadeStart)).attr('height', 2738 - 28)
  .attr('fill', '#f7b060').attr('fill-opacity', 0.3)
  .attr('stroke', '#ffa500').attr('stroke-width', 3);
topG.append('line')
  .attr('x1', x(touchdownTime)).attr('x2', x(touchdownTime)).attr('y1', 25).attr('y2', row(36))
  .attr('stroke', '#11dd11').attr('stroke-width', 2.6).attr('stroke-dasharray', '18,5,3,5');
</script>
</body>
</html>
